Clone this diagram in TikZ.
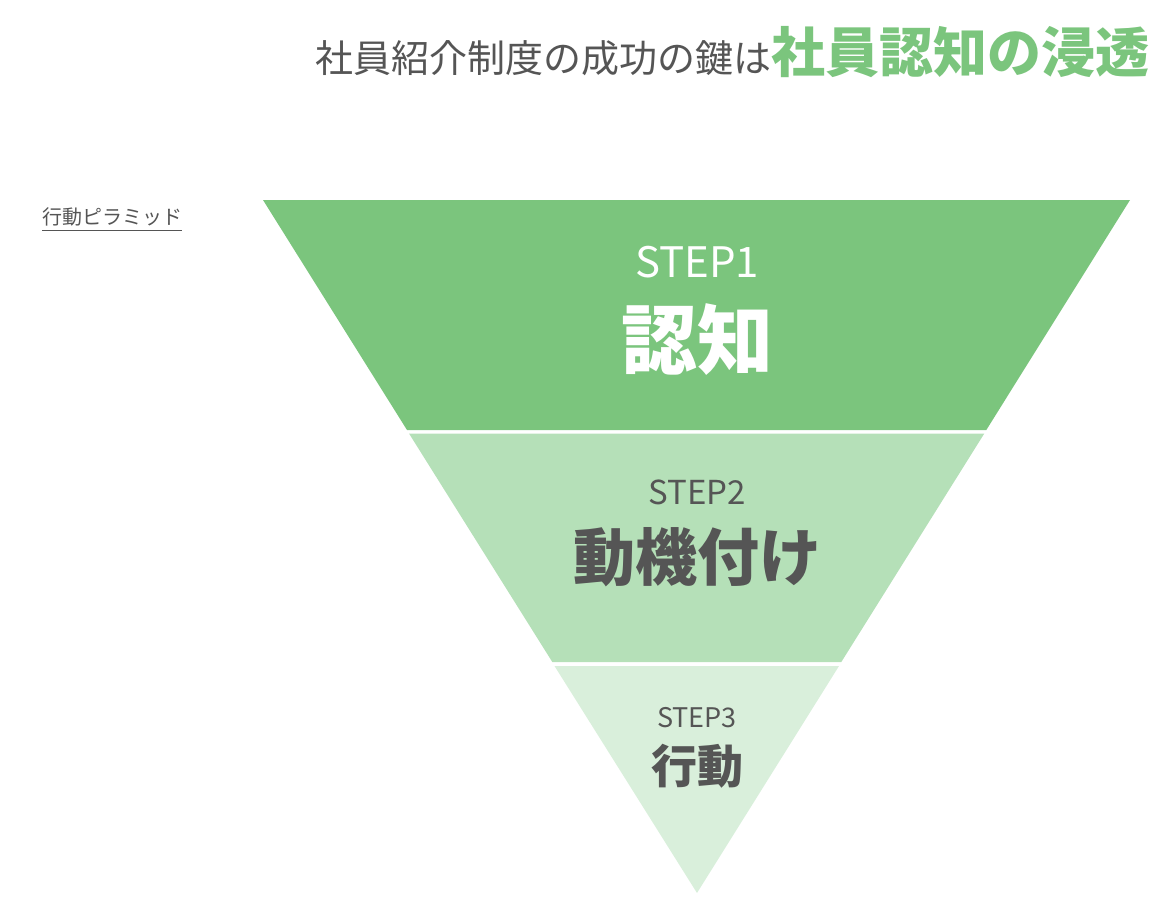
\documentclass[tikz,border=0pt]{standalone}
\usepackage{fontspec}
\setmainfont{Noto Sans CJK JP}
\newfontfamily\jpb{Noto Sans CJK JP}[BoldFont={* Bold}]
\definecolor{g1}{HTML}{7BC57D}
\definecolor{g2}{HTML}{B5E0B8}
\definecolor{g3}{HTML}{D9EFDB}
\definecolor{tx}{HTML}{555555}
\tikzset{lbl/.style={inner sep=0pt,anchor=center}}
\begin{document}
\begin{tikzpicture}[x=1pt,y=-1pt]
\useasboundingbox (0,0) rectangle (1169,921);
\fill[g1] (263,200) -- (1130,200) -- (986.3,430) -- (407,430) -- cycle;
\fill[g2] (409,433.5) -- (984.3,433.5) -- (841.3,662) -- (552.3,662) -- cycle;
\fill[g3] (554.5,666) -- (839,666) -- (697,893) -- cycle;
\node[lbl,anchor=east,text=tx] (title) at (1150,52) {\fontsize{38}{44}\selectfont 社員紹介制度の成功の鍵は\textcolor{g1}{\fontsize{54}{60}\selectfont\bfseries 社員認知の浸透}};
\node[lbl,anchor=west,text=tx] (lab) at (42,217) {\fontsize{20}{24}\selectfont 行動ピラミッド};
\draw[tx,line width=1] (lab.south west)++(0,4) -- ([yshift=-4pt]lab.south east);
\node[lbl,text=white] (s1) at (697,262) {\fontsize{42}{48}\selectfont STEP1};
\node[lbl,text=white] (t1) at (697,340) {\fontsize{76}{80}\selectfont\bfseries 認知};
\node[lbl,text=tx] (s2) at (697,492) {\fontsize{33}{38}\selectfont STEP2};
\node[lbl,text=tx] (t2) at (697,557) {\fontsize{62}{66}\selectfont\bfseries 動機付け};
\node[lbl,text=tx] (s3) at (697,718) {\fontsize{27}{30}\selectfont STEP3};
\node[lbl,text=tx] (t3) at (697,766) {\fontsize{46}{50}\selectfont\bfseries 行動};
\end{tikzpicture}
\end{document}
